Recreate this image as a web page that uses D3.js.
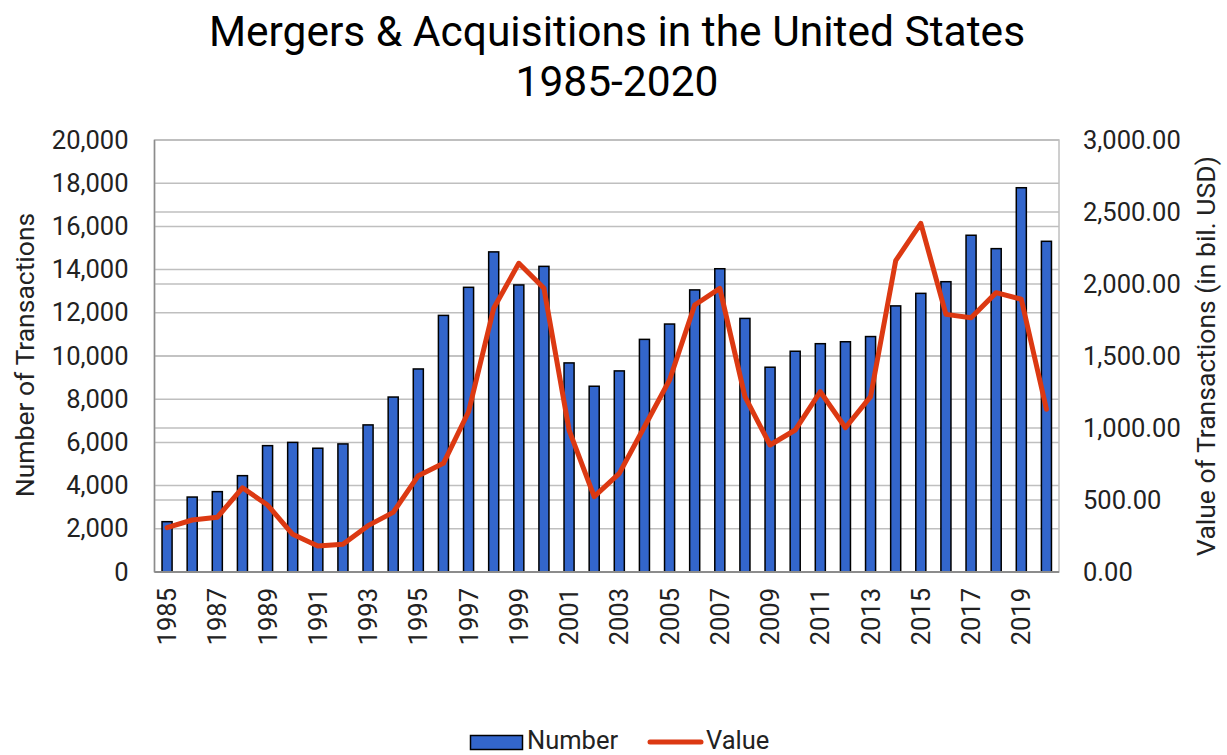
<!DOCTYPE html>
<html>
<head>
<meta charset="utf-8">
<script src="https://cdn.jsdelivr.net/npm/d3@7"></script>
<style>
  body { margin: 0; background: #fff; }
  svg { display: block; font-family: Roboto, "Noto Sans", sans-serif; }
</style>
</head>
<body>
<svg id="chart" width="1227" height="755"></svg>
<script>
// data
const years = d3.range(1985, 2021);
const numberOfDeals = [
  2330, 3470, 3720, 4460, 5850, 6000, 5730, 5930, 6810, 8100, 9400, 11880,
  13180, 14820, 13290, 14150, 9680, 8600, 9310, 10770, 11480, 13060, 14040, 11740,
  9480, 10220, 10570, 10660, 10900, 12320, 12900, 13440, 15590, 14970, 17790, 15310
];
const valueOfDeals = [
  308, 361, 380, 585, 465, 262, 181, 192, 322, 414, 669, 755,
  1113, 1831, 2144, 1970, 986, 523, 685, 1009, 1333, 1854, 1970, 1218,
  882, 986, 1252, 1002, 1218, 2162, 2421, 1789, 1766, 1940, 1894, 1130
];
const leftTicks = d3.range(0, 20001, 2000);
const rightTicks = d3.range(0, 3001, 500);
const titleLines = ["Mergers & Acquisitions in the United States", "1985-2020"];

const svg = d3.select("#chart");
const plot = { left: 154.5, right: 1059, top: 140, bottom: 572 };

const x = d3.scaleBand()
  .domain(years)
  .range([plot.left, plot.right])
  .paddingInner(0.6)
  .paddingOuter(0.3);
const yL = d3.scaleLinear().domain([0, 20000]).range([plot.bottom, plot.top]);
const yR = d3.scaleLinear().domain([0, 3000]).range([plot.bottom, plot.top]);

// title
svg.append("g").selectAll("text")
  .data(titleLines)
  .join("text")
  .attr("x", 617)
  .attr("y", (d, i) => 46 + i * 50)
  .attr("text-anchor", "middle")
  .attr("font-size", 42.5)
  .attr("fill", "#000")
  .text(d => d);

// gridlines for both axes
const grid = svg.append("g");
grid.selectAll("line.gl")
  .data(leftTicks)
  .join("line")
  .attr("class", "gl")
  .attr("x1", plot.left).attr("x2", plot.right)
  .attr("y1", d => yL(d)).attr("y2", d => yL(d))
  .attr("stroke", "#bfbfbf").attr("stroke-width", 1.5);
grid.selectAll("line.gr")
  .data(rightTicks)
  .join("line")
  .attr("class", "gr")
  .attr("x1", plot.left).attr("x2", plot.right)
  .attr("y1", d => yR(d)).attr("y2", d => yR(d))
  .attr("stroke", "#bfbfbf").attr("stroke-width", 1.5);

// plot border
svg.append("rect")
  .attr("x", plot.left).attr("y", plot.top)
  .attr("width", plot.right - plot.left)
  .attr("height", plot.bottom - plot.top)
  .attr("fill", "none")
  .attr("stroke", "#bfbfbf").attr("stroke-width", 1.5);

// bars
svg.append("g").selectAll("rect")
  .data(years)
  .join("rect")
  .attr("x", d => x(d))
  .attr("width", x.bandwidth())
  .attr("y", (d, i) => yL(numberOfDeals[i]))
  .attr("height", (d, i) => plot.bottom - yL(numberOfDeals[i]))
  .attr("fill", "#3366cc")
  .attr("stroke", "#000")
  .attr("stroke-width", 1.5);

// axes lines
svg.append("line")
  .attr("x1", plot.left).attr("x2", plot.left)
  .attr("y1", plot.top).attr("y2", plot.bottom)
  .attr("stroke", "#8c8c8c").attr("stroke-width", 1.5);
svg.append("line")
  .attr("x1", plot.left).attr("x2", plot.right)
  .attr("y1", plot.bottom).attr("y2", plot.bottom)
  .attr("stroke", "#8c8c8c").attr("stroke-width", 2);

// value line
const line = d3.line()
  .x((d, i) => x(years[i]) + x.bandwidth() / 2)
  .y(d => yR(d));
svg.append("path")
  .datum(valueOfDeals)
  .attr("d", line)
  .attr("fill", "none")
  .attr("stroke", "#dc3912")
  .attr("stroke-width", 5)
  .attr("stroke-linejoin", "round")
  .attr("stroke-linecap", "round");

// left axis
const leftAxis = svg.append("g")
  .attr("transform", `translate(${plot.left},0)`)
  .call(d3.axisLeft(yL).tickValues(leftTicks).tickFormat(d3.format(",")).tickSize(0).tickPadding(26));
leftAxis.select(".domain").remove();
leftAxis.selectAll("text").attr("font-size", 25.5).attr("fill", "#222").attr("font-family", "Roboto");

// right axis
const rightAxis = svg.append("g")
  .attr("transform", `translate(${plot.right},0)`)
  .call(d3.axisRight(yR).tickValues(rightTicks).tickFormat(d3.format(",.2f")).tickSize(0).tickPadding(24));
rightAxis.select(".domain").remove();
rightAxis.selectAll("text").attr("font-size", 25.5).attr("fill", "#222").attr("font-family", "Roboto");

// bottom axis, every other year
const bottomAxis = svg.append("g")
  .attr("transform", `translate(0,${plot.bottom})`)
  .call(d3.axisBottom(x).tickValues(years.filter(d => (d - 1985) % 2 === 0)).tickSize(0).tickPadding(0));
bottomAxis.select(".domain").remove();
bottomAxis.selectAll("text")
  .attr("font-size", 25.5).attr("fill", "#222").attr("font-family", "Roboto")
  .attr("transform", "rotate(-90)")
  .attr("text-anchor", "end")
  .attr("x", -16)
  .attr("y", 0)
  .attr("dy", "0.35em");

// axis titles
svg.append("text")
  .attr("transform", "translate(34,355) rotate(-90)")
  .attr("text-anchor", "middle")
  .attr("font-size", 26.5).attr("fill", "#222")
  .text("Number of Transactions");
svg.append("text")
  .attr("transform", "translate(1215,356) rotate(-90)")
  .attr("text-anchor", "middle")
  .attr("font-size", 26.5).attr("fill", "#222")
  .text("Value of Transactions (in bil. USD)");

// legend (nudged up a little so the text is not clipped by the page edge)
const legend = svg.append("g");
legend.append("rect")
  .attr("x", 470.5).attr("y", 735.5)
  .attr("width", 52).attr("height", 14)
  .attr("fill", "#3366cc").attr("stroke", "#000").attr("stroke-width", 1.5);
legend.append("text")
  .attr("x", 527).attr("y", 749)
  .attr("font-size", 25.5).attr("fill", "#222")
  .text("Number");
legend.append("line")
  .attr("x1", 650).attr("x2", 701)
  .attr("y1", 742).attr("y2", 742)
  .attr("stroke", "#dc3912").attr("stroke-width", 5).attr("stroke-linecap", "round");
legend.append("text")
  .attr("x", 706).attr("y", 749)
  .attr("font-size", 25.5).attr("fill", "#222")
  .text("Value");
</script>
</body>
</html>
